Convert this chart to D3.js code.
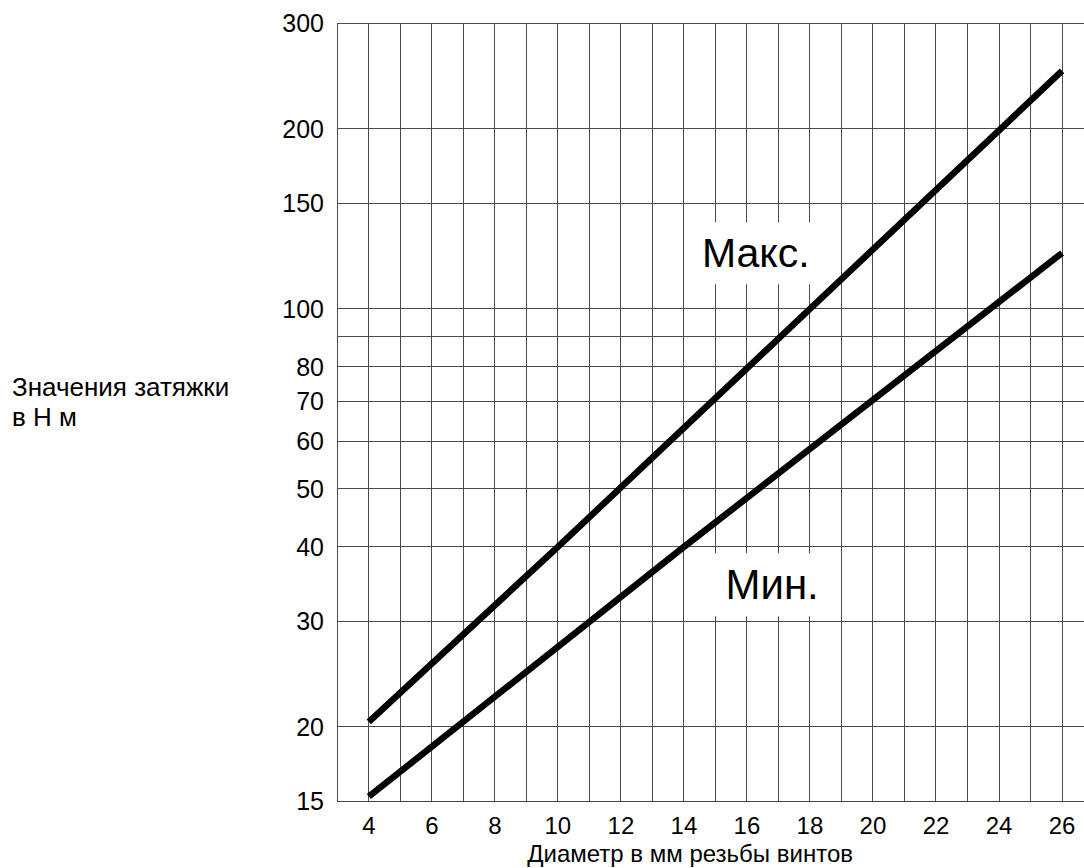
<!DOCTYPE html>
<html>
<head>
<meta charset="utf-8">
<script src="https://cdn.jsdelivr.net/npm/d3@7"></script>
<style>
  body { margin: 0; background: #fff; }
  svg { display: block; font-family: "Liberation Sans", Arial, sans-serif; }
</style>
</head>
<body>
<div id="chart"></div>
<script>
// values
const diameters = [4, 6, 8, 10, 12, 14, 16, 18, 20, 22, 24, 26];
const maxX = [4, 10, 18, 26];
const maxTorque = [20.4, 40, 100, 250];
const minX = [4, 14, 26];
const minTorque = [15.3, 40, 124];
const yTicks = [15, 20, 30, 40, 50, 60, 70, 80, 100, 150, 200, 300];
const yGrid = [15, 20, 30, 40, 50, 60, 70, 80, 90, 100, 150, 200, 300];
const labels = [
  {text: 'Макс.', x: 16.28, y: 124},
  {text: 'Мин.', x: 16.8, y: 34.6}
];

const w = 1084;
const h = 868;

const svg = d3.select('#chart')
              .append('svg')
              .attr('width', w)
              .attr('height', h);

//Scales
const xScale = d3.scaleLinear()
                 .domain([3, 27])
                 .range([337.3, 337.3 + 24 * 31.51]);

const yScale = d3.scaleLog()
                 .domain([15, 300])
                 .range([801.7, 23.5]);

const gridColor = '#4a4a4a';

//Grid - vertical
svg.append('g')
   .selectAll('line')
   .data(d3.range(3, 28))
   .enter()
   .append('line')
   .attr('x1', d => xScale(d))
   .attr('x2', d => xScale(d))
   .attr('y1', yScale(300))
   .attr('y2', yScale(15))
   .attr('stroke', gridColor)
   .attr('stroke-width', 1)
   .attr('shape-rendering', 'crispEdges');

//Grid - horizontal
svg.append('g')
   .selectAll('line')
   .data(yGrid)
   .enter()
   .append('line')
   .attr('x1', xScale(3))
   .attr('x2', xScale(27))
   .attr('y1', d => yScale(d))
   .attr('y2', d => yScale(d))
   .attr('stroke', gridColor)
   .attr('stroke-width', 1)
   .attr('shape-rendering', 'crispEdges');

//Tick labels - y
svg.append('g')
   .selectAll('text')
   .data(yTicks)
   .enter()
   .append('text')
   .attr('x', 324)
   .attr('y', d => yScale(d))
   .attr('dy', '0.35em')
   .attr('text-anchor', 'end')
   .attr('font-size', 25)
   .text(d => d);

//Tick labels - x
svg.append('g')
   .selectAll('text')
   .data(diameters)
   .enter()
   .append('text')
   .attr('x', d => xScale(d))
   .attr('y', 834)
   .attr('text-anchor', 'middle')
   .attr('font-size', 24)
   .text(d => d);

//Lines
const line = d3.line()
               .x(d => xScale(d[0]))
               .y(d => yScale(d[1]));

[[maxX, maxTorque], [minX, minTorque]].forEach(s => {
  svg.append('path')
     .datum(d3.zip(s[0], s[1]))
     .attr('d', line)
     .attr('fill', 'none')
     .attr('stroke', '#000')
     .attr('stroke-width', 6.5)
     .attr('stroke-linecap', 'butt');
});

//Series labels on white boxes
labels.forEach(l => {
  const g = svg.append('g');
  const t = g.append('text')
             .attr('x', xScale(l.x))
             .attr('y', yScale(l.y))
             .attr('dy', '0.35em')
             .attr('text-anchor', 'middle')
             .attr('font-size', l.text === 'Мин.' ? 42 : 41)
             .text(l.text);
  const b = t.node().getBBox();
  g.insert('rect', 'text')
   .attr('x', b.x - 12)
   .attr('y', b.y - 8)
   .attr('width', b.width + 24)
   .attr('height', b.height + 16)
   .attr('fill', '#fff');
});

//Axis titles
svg.append('text')
   .attr('x', 12)
   .attr('y', 396)
   .attr('font-size', 26)
   .text('Значения затяжки');

svg.append('text')
   .attr('x', 12)
   .attr('y', 426)
   .attr('font-size', 26)
   .text('в Н м');

svg.append('text')
   .attr('x', 853)
   .attr('y', 862)
   .attr('text-anchor', 'end')
   .attr('font-size', 24)
   .text('Диаметр в мм резьбы винтов');
</script>
</body>
</html>
